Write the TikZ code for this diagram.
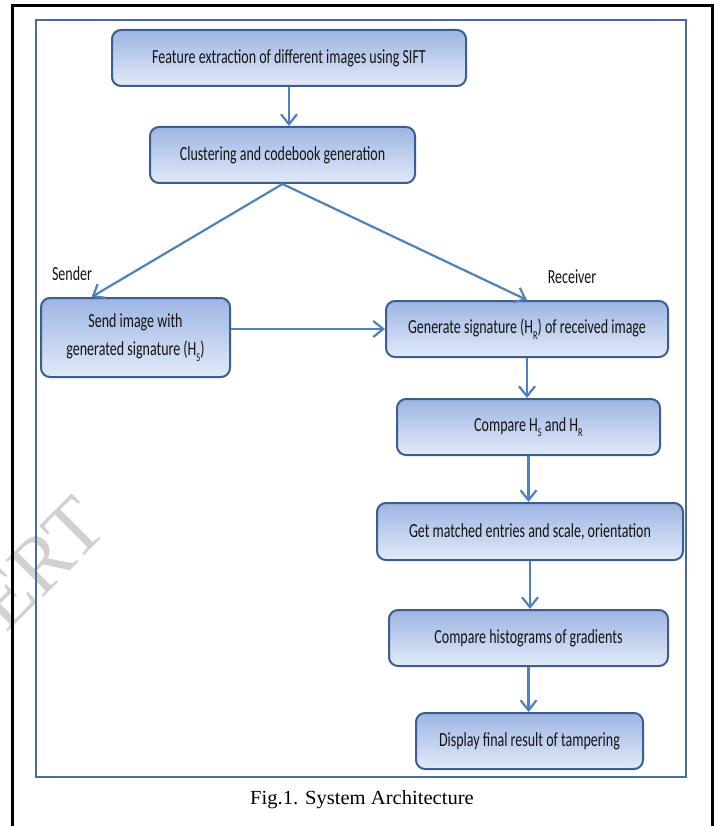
\documentclass[tikz,border=0pt]{standalone}
\usepackage{fontspec}
\setmainfont{Liberation Serif}
\newfontfamily\boxfont[FakeStretch=0.7]{Carlito}
\newfontfamily\capfont[FakeStretch=1.03]{Liberation Serif}
\usetikzlibrary{arrows.meta,calc}
\definecolor{linkblue}{HTML}{4F81BD}
\definecolor{boxedge}{HTML}{3A5F8E}
\definecolor{boxtop}{HTML}{9DB5E3}
\definecolor{boxbot}{HTML}{E2EAF9}
\definecolor{framblue}{HTML}{4A6A9C}
\newcommand\lowsub[1]{\raisebox{-0.28em}{\fontsize{12}{12}\selectfont #1}}
\tikzset{
  flowbox/.style={draw=boxedge, line width=2pt, rounded corners=9pt,
    top color=boxtop, bottom color=boxbot, shading angle=0,
    font=\boxfont\fontsize{20}{28}\selectfont, text=black!92,
    align=center, inner sep=0pt},
  arr/.style={draw=linkblue, line width=2.2pt,
    -{Straight Barb[length=10pt,width=16pt,line width=2.2pt]}},
  sidelabel/.style={font=\boxfont\fontsize{20}{24}\selectfont, text=black!92, inner sep=0pt},
}
\begin{document}
\begin{tikzpicture}[x=1pt,y=-1pt]
\useasboundingbox (0,0) rectangle (716,826);
\begin{scope}
\clip (0,0) rectangle (716,826);
% watermark
\node[rotate=45, text=black!18, font=\fontsize{80}{80}\selectfont, anchor=east, inner sep=0pt] (wm) at (92,512) {IJERT};
% outer frame
\draw[line width=3pt, black] (12,6) rectangle (712,850);
\end{scope}
% inner frame
\draw[line width=2.2pt, framblue] (36,20) rectangle (686,777);

% boxes
\node[flowbox, minimum width=354pt, minimum height=56pt] (b1) at (289,58) {Feature extraction of different images using SIFT};
\node[flowbox, minimum width=265pt, minimum height=56pt] (b2) at (282.5,155) {Clustering and codebook generation};
\node[flowbox, minimum width=189pt, minimum height=79pt] (snd) at (135.5,337.5) {Send image with\\generated signature (H\lowsub{S})};
\node[flowbox, minimum width=282pt, minimum height=56pt] (gen) at (527,329) {Generate signature (H\lowsub{R}) of received image};
\node[flowbox, minimum width=263pt, minimum height=56pt] (cmp) at (528.5,427) {Compare H\lowsub{S} and H\lowsub{R}};
\node[flowbox, minimum width=306pt, minimum height=57pt] (get) at (530,531.5) {Get matched entries and scale, orientation};
\node[flowbox, minimum width=279pt, minimum height=56pt] (hist) at (528.5,638) {Compare histograms of gradients};
\node[flowbox, minimum width=227pt, minimum height=56pt] (disp) at (529.5,741) {Display final result of tampering};

% labels
\node[sidelabel] (lsnd) at (72,274) {Sender};
\node[sidelabel] (lrcv) at (572,277) {Receiver};

% connectors
\draw[arr] (b1.south) -- (b1.south |- b2.north);
\draw[arr] (b2.south) -- ($(snd.north west)!0.27!(snd.north east)$);
\draw[arr] (b2.south) -- (gen.north);
\draw[arr] (snd.east |- gen.west) -- (gen.west);
\draw[arr] (gen.south) -- (gen.south |- cmp.north);
\draw[arr] (cmp.south) -- (cmp.south |- get.north);
\draw[arr] (get.south) -- (get.south |- hist.north);
\draw[arr] (hist.south) -- (hist.south |- disp.north);

% caption
\node[font=\capfont\fontsize{20}{24}\selectfont, inner sep=0pt] (cap) at (362,800) {Fig.1. System Architecture};
\end{tikzpicture}
\end{document}
